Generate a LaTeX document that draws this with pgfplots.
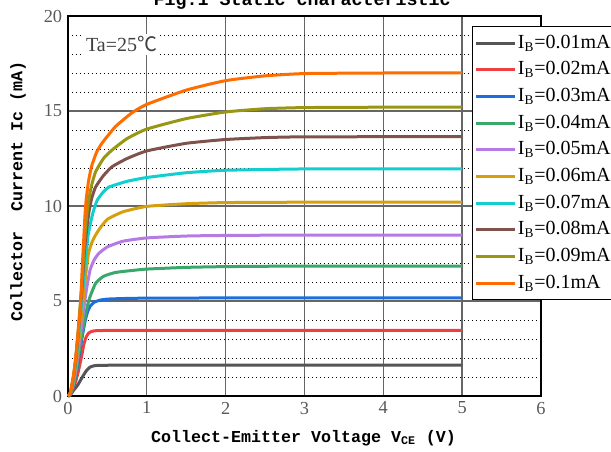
\documentclass[border=0pt]{standalone}
\usepackage{fontspec}
\setmainfont{Liberation Serif}
\newfontfamily\monob{Liberation Mono}
\newfontfamily\cjk{Noto Sans CJK SC}
\usepackage{pgfplots}
\pgfplotsset{compat=1.18}
\definecolor{cGray}{RGB}{85,85,85}
\definecolor{cRed}{RGB}{238,64,64}
\definecolor{cBlue}{RGB}{28,110,222}
\definecolor{cGreen}{RGB}{58,168,108}
\definecolor{cPurple}{RGB}{182,122,228}
\definecolor{cGold}{RGB}{212,160,16}
\definecolor{cCyan}{RGB}{18,206,206}
\definecolor{cBrown}{RGB}{128,82,76}
\definecolor{cOlive}{RGB}{152,150,18}
\definecolor{cOrange}{RGB}{255,108,0}
\begin{document}
\begin{tikzpicture}
\begin{axis}[
  name=ax,
  scale only axis,
  width=283.8pt, height=228pt,
  xmin=0, xmax=6, ymin=0, ymax=20,
  xtick={0,1,2,3,4,5,6},
  ytick={0,5,10,15,20},
  minor y tick num=4,
  major tick length=0pt, minor tick length=0pt,
  grid=both,
  major grid style={draw=black!60, line width=0.8pt},
  minor x grid style={draw=none},
  minor y grid style={draw=black, dotted, line width=0.5pt},
  axis line style={black, line width=0.8pt},
  /pgf/number format/assume math mode=true,
  ticklabel style={font=\fontsize{11}{13}\selectfont, text=black!65},
  xlabel={\monob\bfseries Collect-Emitter Voltage V\textsubscript{CE} (V)},
  ylabel={\monob\bfseries Collector\ \ Current Ic (mA)},
  every axis x label/.style={at={(axis description cs:0.498,-0.1105)}, anchor=center, font=\fontsize{10}{12}\selectfont},
  every axis y label/.style={at={(axis description cs:-0.1057,0.539)}, anchor=center, rotate=90, font=\fontsize{10}{12}\selectfont},
  legend cell align=left,
  legend image code/.code={\draw[#1, line width=1.8pt] (0pt,0pt) -- (23pt,0pt);},
  legend style={at={(axis description cs:0.854,0.974)}, anchor=north west,
    draw=black, line width=0.6pt, fill=white,
    inner xsep=1.5pt, inner ysep=2pt,
    font=\fontsize{12}{14}\selectfont,
    nodes={inner sep=1pt, text height=10pt, text depth=4pt}},
  every axis plot/.append style={line width=1.8pt, smooth, tension=0.3},
  clip=false,
]
\addplot[cGray] coordinates {(0,0) (0.03,0.05) (0.07,0.3) (0.1,0.45) (0.13,0.62) (0.16,0.84) (0.2,1.12) (0.24,1.37) (0.28,1.52) (0.33,1.59) (0.4,1.615) (0.6,1.62) (1,1.62) (3,1.62) (5,1.62)};
\addlegendentry{I\textsubscript{B}=0.01mA}
\addplot[cRed] coordinates {(0,0) (0.03,0.08) (0.07,0.45) (0.1,0.8) (0.135,1.37) (0.18,2.25) (0.2,2.7) (0.23,3.1) (0.26,3.3) (0.3,3.4) (0.36,3.44) (0.5,3.45) (1,3.46) (3,3.46) (5,3.46)};
\addlegendentry{I\textsubscript{B}=0.02mA}
\addplot[cBlue] coordinates {(0,0) (0.03,0.1) (0.07,0.55) (0.1,1.1) (0.14,2.1) (0.18,3.12) (0.22,4.0) (0.25,4.45) (0.28,4.72) (0.33,4.93) (0.4,5.04) (0.5,5.1) (0.7,5.13) (1,5.15) (2,5.16) (5,5.16)};
\addlegendentry{I\textsubscript{B}=0.03mA}
\addplot[cGreen] coordinates {(0,0) (0.03,0.1) (0.07,0.6) (0.1,1.2) (0.14,2.3) (0.18,3.3) (0.22,4.2) (0.25,4.8) (0.28,5.23) (0.35,5.93) (0.45,6.3) (0.6,6.5) (0.8,6.6) (1,6.68) (1.5,6.77) (2,6.81) (3,6.84) (5,6.84)};
\addlegendentry{I\textsubscript{B}=0.04mA}
\addplot[cPurple] coordinates {(0,0) (0.03,0.12) (0.07,0.7) (0.1,1.4) (0.14,2.7) (0.18,3.9) (0.21,4.9) (0.24,5.75) (0.28,6.63) (0.33,7.15) (0.39,7.5) (0.5,7.85) (0.7,8.15) (1,8.32) (1.5,8.42) (2,8.45) (3,8.47) (5,8.47)};
\addlegendentry{I\textsubscript{B}=0.05mA}
\addplot[cGold] coordinates {(0,0) (0.03,0.13) (0.07,0.8) (0.1,1.6) (0.14,3.0) (0.18,4.6) (0.22,6.2) (0.26,7.5) (0.3,8.05) (0.34,8.4) (0.4,8.8) (0.5,9.3) (0.7,9.7) (1,9.98) (1.5,10.12) (2,10.18) (3,10.2) (5,10.2)};
\addlegendentry{I\textsubscript{B}=0.06mA}
\addplot[cCyan] coordinates {(0,0) (0.03,0.14) (0.07,0.9) (0.1,1.8) (0.14,3.4) (0.18,5.3) (0.22,7.0) (0.25,8.3) (0.28,9.0) (0.32,9.7) (0.37,10.3) (0.45,10.75) (0.52,11.0) (0.75,11.3) (1,11.5) (1.5,11.75) (2,11.88) (3,11.95) (5,11.95)};
\addlegendentry{I\textsubscript{B}=0.07mA}
\addplot[cBrown] coordinates {(0,0) (0.03,0.15) (0.07,1.0) (0.1,2.0) (0.14,3.8) (0.18,5.9) (0.21,7.7) (0.24,8.9) (0.27,9.79) (0.3,10.4) (0.35,11.0) (0.45,11.6) (0.56,12.07) (0.75,12.5) (1,12.9) (1.5,13.3) (2,13.5) (2.5,13.6) (3,13.64) (5,13.65)};
\addlegendentry{I\textsubscript{B}=0.08mA}
\addplot[cOlive] coordinates {(0,0) (0.03,0.16) (0.07,1.05) (0.1,2.05) (0.14,4.0) (0.18,6.2) (0.21,8.2) (0.24,9.6) (0.27,10.5) (0.3,11.1) (0.35,11.8) (0.45,12.5) (0.56,12.95) (0.75,13.55) (1,14.05) (1.5,14.6) (2,14.95) (2.5,15.12) (3,15.18) (4,15.2) (5,15.2)};
\addlegendentry{I\textsubscript{B}=0.09mA}
\addplot[cOrange] coordinates {(0,0) (0.03,0.18) (0.07,1.1) (0.1,2.1) (0.157,4.6) (0.178,6.5) (0.2,8.3) (0.215,9.5) (0.23,10.3) (0.26,11.3) (0.3,12.1) (0.36,12.8) (0.43,13.3) (0.6,14.17) (0.81,14.9) (1,15.35) (1.5,16.1) (2,16.6) (2.5,16.85) (3,16.97) (4,17.0) (5,17.0)};
\addlegendentry{I\textsubscript{B}=0.1mA}
\node[fill=white, inner sep=1.5pt, font=\fontsize{12}{14}\selectfont, text=black!75] at (axis cs:0.68,18.5) {Ta=25{\cjk ℃}};
\node[anchor=base, inner sep=0pt, font=\fontsize{11}{13}\selectfont] at (rel axis cs:0.495,1.028) {\monob\bfseries Fig.1 Static characteristic};
\end{axis}
\pgfresetboundingbox
\path[use as bounding box] (ax.south west) ++(-40.8pt,-33pt) rectangle ++(366.6pt,270.6pt);
\end{tikzpicture}
\end{document}
